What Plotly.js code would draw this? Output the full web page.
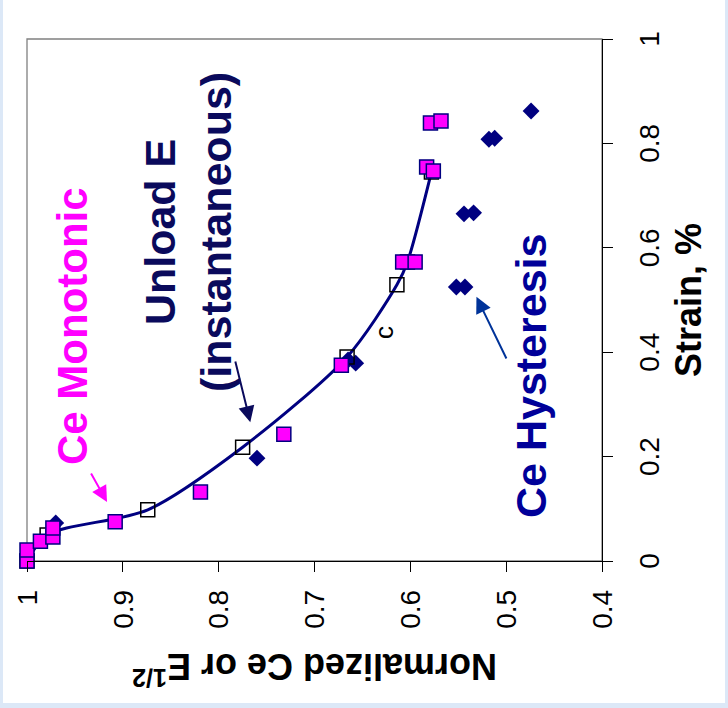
<!DOCTYPE html>
<html>
<head>
<meta charset="utf-8">
<script src="https://cdn.plot.ly/plotly-3.0.1.min.js"></script>
<style>
  html, body { margin: 0; padding: 0; width: 728px; height: 708px; overflow: hidden; background: #dce8f7; }
  /* the chart is laid out upright, then turned a quarter turn counter-clockwise */
  #chart {
    position: absolute; left: 0; top: 0;
    width: 703px; height: 722px;
    transform-origin: 0 0;
    transform: translate(3px, 703px) rotate(-90deg);
    background: #ffffff;
  }
</style>
</head>
<body>
<div id="chart"></div>
<script>
// Ce monotonic (magenta squares)
const strainMono = [0, 0.021, 0.038, 0.046, 0.063, 0.075, 0.132, 0.243, 0.375, 0.573, 0.573, 0.755, 0.747, 0.839, 0.843];
const ceMono     = [1.0, 1.0, 0.986, 0.973, 0.973, 0.908, 0.819, 0.732, 0.672, 0.608, 0.595, 0.583, 0.576, 0.579, 0.568];

// Ce hysteresis (navy diamonds)
const strainHyst = [0.073, 0.197, 0.379, 0.385, 0.525, 0.525, 0.665, 0.667, 0.808, 0.810, 0.862];
const ceHyst     = [0.970, 0.760, 0.657, 0.665, 0.552, 0.543, 0.544, 0.534, 0.518, 0.512, 0.474];

// Unload E, instantaneous (open squares, smoothed line)
const strainUnload = [0, 0.050, 0.098, 0.218, 0.391, 0.529, 0.573, 0.745];
const eUnload      = [1.0, 0.979, 0.874, 0.775, 0.666, 0.614, 0.603, 0.578];

// axis ticks
const strainTicks = [0, 0.2, 0.4, 0.6, 0.8, 1];
const ceTicks = [0.4, 0.5, 0.6, 0.7, 0.8, 0.9, 1];

const FONT = 'Arial, "Liberation Sans", sans-serif';
const NAVY = '#000080';

const traces = [
  {
    x: strainHyst, y: ceHyst, type: 'scatter', mode: 'markers', name: 'Ce Hysteresis',
    marker: { symbol: 'diamond', size: 13, color: NAVY, line: { width: 0 } },
    cliponaxis: false
  },
  {
    x: strainUnload, y: eUnload, type: 'scatter', mode: 'lines+markers', name: 'Unload E',
    line: { color: NAVY, width: 3, shape: 'spline', smoothing: 0.8 },
    marker: { symbol: 'square-open', size: 14, color: '#000000', line: { width: 1.5, color: '#000000' } },
    cliponaxis: false
  },
  {
    x: strainMono, y: ceMono, type: 'scatter', mode: 'markers', name: 'Ce Monotonic',
    marker: { symbol: 'square', size: 14, color: '#ff00ff', line: { width: 1.5, color: NAVY } },
    cliponaxis: false
  }
];

const baseAxis = {
  showgrid: false, zeroline: false, fixedrange: true
};

const layout = {
  width: 703, height: 722,
  margin: { l: 142, r: 39, t: 24, b: 123 },
  paper_bgcolor: '#ffffff', plot_bgcolor: '#ffffff',
  showlegend: false,
  font: { family: FONT, color: '#000000' },
  xaxis: Object.assign({}, baseAxis, {
    range: [0, 1], tickvals: strainTicks, ticktext: strainTicks.map(String),
    ticks: 'outside', ticklen: 10, tickwidth: 1, tickcolor: '#000000',
    showline: true, linecolor: '#000000', linewidth: 1.3,
    tickfont: { size: 28, family: FONT },
    ticklabelstandoff: 12,
    title: { text: 'Strain, %', font: { size: 36, family: FONT, weight: 700 }, standoff: 12 }
  }),
  yaxis: Object.assign({}, baseAxis, {
    range: [0.4, 1], tickvals: ceTicks, ticktext: ceTicks.map(String),
    ticks: 'outside', ticklen: 10, tickwidth: 1, tickcolor: '#000000',
    showline: true, linecolor: '#000000', linewidth: 1.3,
    tickfont: { size: 28, family: FONT },
    ticklabelstandoff: 12,
    title: { text: 'Normalized Ce or E<sup>1/2</sup>', font: { size: 36, family: FONT, weight: 700 }, standoff: 13 }
  }),
  // inner halves of the crossing tick marks
  xaxis2: Object.assign({}, baseAxis, {
    overlaying: 'x', anchor: 'y', side: 'bottom', range: [0, 1], tickvals: strainTicks,
    ticks: 'inside', ticklen: 10, tickwidth: 1, tickcolor: '#000000', showticklabels: false, showline: false
  }),
  yaxis2: Object.assign({}, baseAxis, {
    overlaying: 'y', anchor: 'x', side: 'left', range: [0.4, 1], tickvals: ceTicks,
    ticks: 'inside', ticklen: 10, tickwidth: 1, tickcolor: '#000000', showticklabels: false, showline: false
  }),
  shapes: [
    { type: 'rect', xref: 'paper', yref: 'paper', x0: 0, x1: 1, y0: 0, y1: 1,
      line: { color: '#808080', width: 1.3 }, layer: 'below' }
  ],
  annotations: [
    { x: 0.451, y: 0.9525, xref: 'x', yref: 'y', text: 'Ce Monotonic', showarrow: false,
      font: { family: FONT, size: 42, weight: 700, color: '#ff00ff' } },
    { x: 0.630, y: 0.832, xref: 'x', yref: 'y', text: 'Unload E<br>(instantaneous)', showarrow: false,
      align: 'center', font: { family: FONT, size: 43, weight: 700, color: '#0a0a5c' } },
    { x: 0.354, y: 0.474, xref: 'x', yref: 'y', text: 'Ce Hysteresis', showarrow: false,
      font: { family: FONT, size: 43, weight: 700, color: '#000099' } },
    { x: 0.437, y: 0.628, xref: 'x', yref: 'y', text: 'c', showarrow: false,
      font: { family: FONT, size: 26, color: '#000000' } },
    // pointer arrows
    { x: 0.113, y: 0.9165, ax: 0.1705, ay: 0.934, xref: 'x', yref: 'y', axref: 'x', ayref: 'y',
      text: '', showarrow: true, arrowhead: 2, arrowsize: 1.6, arrowwidth: 2, arrowcolor: '#ff00ff' },
    { x: 0.266, y: 0.767, ax: 0.385, ay: 0.783, xref: 'x', yref: 'y', axref: 'x', ayref: 'y',
      text: '', showarrow: true, arrowhead: 2, arrowsize: 1.6, arrowwidth: 2, arrowcolor: '#0a0a5c' },
    { x: 0.506, y: 0.531, ax: 0.385, ay: 0.499, xref: 'x', yref: 'y', axref: 'x', ayref: 'y',
      text: '', showarrow: true, arrowhead: 2, arrowsize: 1.6, arrowwidth: 2, arrowcolor: '#003399' }
  ]
};

Plotly.newPlot('chart', traces, layout, { staticPlot: true, displayModeBar: false });
</script>
</body>
</html>
